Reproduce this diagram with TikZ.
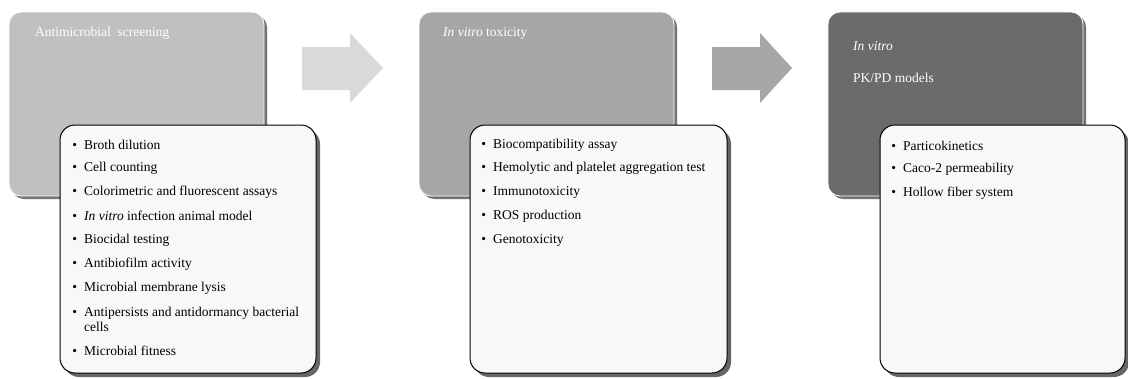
\documentclass[tikz,border=0pt]{standalone}
\usepackage{fontspec}
\setmainfont{Liberation Serif}
\usetikzlibrary{shadows}

\definecolor{paneA}{HTML}{C0C0C0}
\definecolor{paneB}{HTML}{A6A6A6}
\definecolor{paneC}{HTML}{6B6B6B}
\definecolor{arrowA}{HTML}{D9D9D9}
\definecolor{listfill}{HTML}{F8F8F8}

\newcommand{\bul}{\llap{\textbullet\hspace{7pt}}}

\tikzset{
  panel/.style={rounded corners=12pt, minimum width=255pt, minimum height=184pt,
    draw=white, line width=0.8pt, inner sep=0pt,
    drop shadow={shadow xshift=3pt, shadow yshift=-3pt, fill=black!55, opacity=1}},
  listbox/.style={rounded corners=15pt, draw=black, line width=1pt, fill=listfill,
    minimum height=248pt, inner sep=0pt,
    drop shadow={shadow xshift=4pt, shadow yshift=-4pt, fill=black!60, opacity=1}},
  title/.style={text=white, font=\fontsize{13.5}{15}\selectfont, anchor=west, inner sep=0pt},
  item/.style={font=\fontsize{13.5}{15}\selectfont, anchor=west, inner sep=0pt, align=left},
}

\begin{document}
\begin{tikzpicture}[x=1pt,y=-1pt]
\useasboundingbox (0,0) rectangle (1128,378);

% stage panels
\node[panel, fill=paneA] (scr) at (136.5,104) {};
\node[panel, fill=paneB] (tox) at (546.5,104) {};
\node[panel, fill=paneC] (pkpd) at (955.5,104) {};

\node[title] (scrT) at (35,33) {Antimicrobial\ \ screening};
\node[title] (toxT) at (443,33) {\textit{In vitro} toxicity};
\node[title] (pkpdT) at (853,46) {\textit{In vitro}};
\node[title] (pkpdU) at (853,78) {PK/PD models};

% block arrows
\fill[arrowA] (302,47) -- (350,47) -- (350,33) -- (383,68) -- (350,103) -- (350,90) -- (302,90) -- cycle;
\fill[paneB] (712,47) -- (760,47) -- (760,33) -- (792,68) -- (760,103) -- (760,90) -- (712,90) -- cycle;

% lists
\node[listbox, minimum width=256pt] (scrL) at (188,249) {};
\node[listbox, minimum width=257pt] (toxL) at (598.5,249) {};
\node[listbox, minimum width=245pt] (pkpdL) at (1002.5,249) {};

\node[item] (s1) at (84,145) {\bul Broth dilution};
\node[item] (s2) at (84,168) {\bul Cell counting};
\node[item] (s3) at (84,192) {\bul Colorimetric and fluorescent assays};
\node[item] (s4) at (84,216) {\bul\textit{In vitro} infection animal model};
\node[item] (s5) at (84,240) {\bul Biocidal testing};
\node[item] (s6) at (84,264) {\bul Antibiofilm activity};
\node[item] (s7) at (84,288) {\bul Microbial membrane lysis};
\node[item] (s8) at (84,319.5) {\bul Antipersists and antidormancy bacterial\\cells};
\node[item] (s9) at (84,351) {\bul Microbial fitness};

\node[item] (t1) at (493,145) {\bul Biocompatibility assay};
\node[item] (t2) at (493,168) {\bul Hemolytic and platelet aggregation test};
\node[item] (t3) at (493,192) {\bul Immunotoxicity};
\node[item] (t4) at (493,216) {\bul ROS production};
\node[item] (t5) at (493,240) {\bul Genotoxicity};

\node[item] (k1) at (903,146) {\bul Particokinetics};
\node[item] (k2) at (903,169) {\bul Caco-2 permeability};
\node[item] (k3) at (903,193) {\bul Hollow fiber system};
\end{tikzpicture}
\end{document}
